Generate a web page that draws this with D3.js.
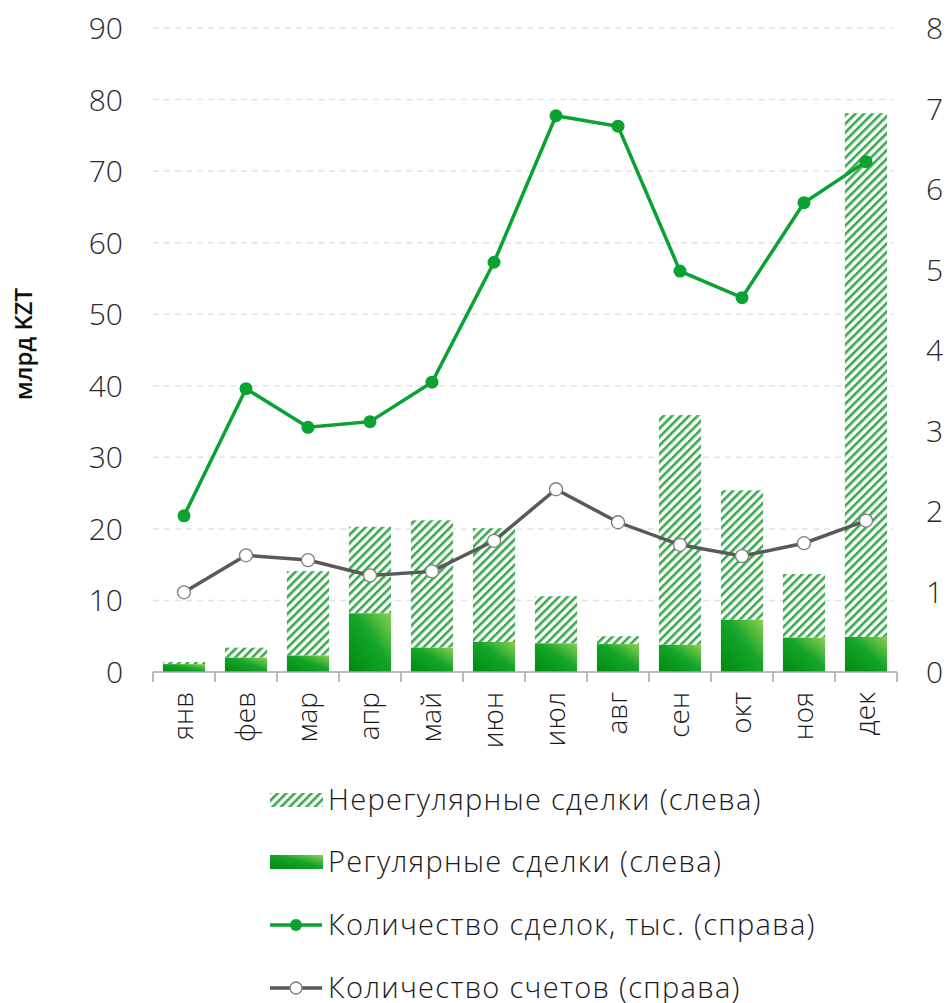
<!DOCTYPE html>
<meta charset="utf-8">
<style>
body { margin: 0; background: #fff; }
svg { display: block; font-family: "Open Sans", Lato, sans-serif; }
.axis text { fill: #2b2b2b; font-size: 30px; font-weight: 300; }
.months text { fill: #1a1a1a; font-size: 28px; font-weight: 300; }
.grid line { stroke: #e3e3e3; stroke-width: 1.5px; stroke-dasharray: 6 5; }
.legend text { fill: #1a1a1a; font-size: 29px; font-weight: 300; letter-spacing: 1.3px; }
</style>
<svg id="chart" width="949" height="1003"></svg>
<script src="https://cdn.jsdelivr.net/npm/d3@7"></script>
<script>
var months = ["янв", "фев", "мар", "апр", "май", "июн", "июл", "авг", "сен", "окт", "ноя", "дек"];
var regular = [1.1, 2.0, 2.3, 8.2, 3.4, 4.2, 4.0, 3.9, 3.8, 7.3, 4.8, 4.9];
var totals = [1.4, 3.4, 14.1, 20.3, 21.2, 20.1, 10.6, 5.0, 35.9, 25.4, 13.7, 78.1];
var deals = [1.94, 3.52, 3.04, 3.11, 3.60, 5.09, 6.91, 6.78, 4.98, 4.65, 5.83, 6.34];
var accounts = [0.99, 1.45, 1.39, 1.20, 1.25, 1.63, 2.27, 1.86, 1.58, 1.44, 1.60, 1.88];
var leftTicks = [0, 10, 20, 30, 40, 50, 60, 70, 80, 90];
var rightTicks = [0, 1, 2, 3, 4, 5, 6, 7, 8];

var svg = d3.select("#chart");
var plotLeft = 153, plotRight = 897, plotTop = 28, plotBottom = 672;

var x = d3.scaleBand().domain(months).range([plotLeft, plotRight]).paddingInner(0.32).paddingOuter(0.16);
var yL = d3.scaleLinear().domain([0, 90]).range([plotBottom, plotTop]);
var yR = d3.scaleLinear().domain([0, 8]).range([plotBottom, plotTop]);

var defs = svg.append("defs");
var grad = defs.append("linearGradient").attr("id", "solid")
    .attr("x1", "0").attr("y1", "1").attr("x2", "1").attr("y2", "0");
grad.append("stop").attr("offset", "0").attr("stop-color", "#008a0e");
grad.append("stop").attr("offset", "0.55").attr("stop-color", "#14a52a");
grad.append("stop").attr("offset", "1").attr("stop-color", "#8ccf50");

var hatch = defs.append("pattern").attr("id", "hatch")
    .attr("patternUnits", "userSpaceOnUse").attr("width", 6).attr("height", 6)
    .attr("patternTransform", "rotate(45)");
hatch.append("rect").attr("width", 6).attr("height", 6).attr("fill", "#fff");
hatch.append("rect").attr("width", 2.6).attr("height", 6).attr("fill", "#3aa84e");

// grid
svg.append("g").attr("class", "grid")
   .selectAll("line").data(leftTicks.slice(1)).enter().append("line")
   .attr("x1", plotLeft).attr("x2", plotRight - 4)
   .attr("y1", function(d) { return yL(d); })
   .attr("y2", function(d) { return yL(d); });

// bars
var bars = svg.append("g").attr("class", "bars");
bars.selectAll("rect.irr").data(months).enter().append("rect")
    .attr("class", "irr")
    .attr("x", function(d) { return x(d); })
    .attr("width", x.bandwidth())
    .attr("y", function(d, i) { return yL(totals[i]); })
    .attr("height", function(d, i) { return yL(regular[i]) - yL(totals[i]); })
    .attr("fill", "url(#hatch)");
bars.selectAll("rect.reg").data(months).enter().append("rect")
    .attr("class", "reg")
    .attr("x", function(d) { return x(d); })
    .attr("width", x.bandwidth())
    .attr("y", function(d, i) { return yL(regular[i]); })
    .attr("height", function(d, i) { return yL(0) - yL(regular[i]); })
    .attr("fill", "url(#solid)");

// x axis baseline and ticks
var xa = svg.append("g");
xa.append("line").attr("x1", plotLeft).attr("x2", plotRight)
  .attr("y1", plotBottom).attr("y2", plotBottom)
  .attr("stroke", "#a6a6a6").attr("stroke-width", 1.5);
var bounds = months.map(function(d) { return x(d) - x.step() * x.paddingInner() / 2; });
bounds.push(plotRight);
xa.selectAll("line.tick").data(bounds).enter().append("line")
  .attr("class", "tick")
  .attr("x1", function(d) { return d; }).attr("x2", function(d) { return d; })
  .attr("y1", plotBottom).attr("y2", plotBottom + 10)
  .attr("stroke", "#a6a6a6").attr("stroke-width", 1.5);

svg.append("g").attr("class", "months")
   .selectAll("text").data(months).enter().append("text")
   .attr("transform", function(d) {
       return "translate(" + (x(d) + x.bandwidth() / 2 + 9) + "," + (plotBottom + 20) + ") rotate(-90)";
   })
   .attr("text-anchor", "end")
   .text(function(d) { return d; });

// left and right tick labels
svg.append("g").attr("class", "axis")
   .selectAll("text").data(leftTicks).enter().append("text")
   .attr("x", 123).attr("y", function(d) { return yL(d) + 11; })
   .attr("text-anchor", "end")
   .text(function(d) { return d; });
svg.append("g").attr("class", "axis")
   .selectAll("text").data(rightTicks).enter().append("text")
   .attr("x", 926).attr("y", function(d) { return yR(d) + 11; })
   .attr("text-anchor", "start")
   .text(function(d) { return d; });

svg.append("text")
   .attr("transform", "translate(32," + 344 + ") rotate(-90)")
   .attr("text-anchor", "middle")
   .attr("font-size", 24).attr("font-weight", 600).attr("fill", "#111")
   .text("млрд KZT");

// lines
var cx = function(d, i) { return x(months[i]) + x.bandwidth() / 2; };
var lineR = function(vals) {
    return d3.line().x(function(d, i) { return cx(d, i); }).y(function(d) { return yR(d); })(vals);
};
svg.append("path").attr("d", lineR(accounts))
   .attr("fill", "none").attr("stroke", "#595959").attr("stroke-width", 3.5);
svg.append("g").selectAll("circle").data(accounts).enter().append("circle")
   .attr("cx", cx).attr("cy", function(d) { return yR(d); }).attr("r", 6.5)
   .attr("fill", "#fff").attr("stroke", "#7f7f7f").attr("stroke-width", 1.3);

svg.append("path").attr("d", lineR(deals))
   .attr("fill", "none").attr("stroke", "#0aa232").attr("stroke-width", 3.5);
svg.append("g").selectAll("circle").data(deals).enter().append("circle")
   .attr("cx", cx).attr("cy", function(d) { return yR(d); }).attr("r", 6.5)
   .attr("fill", "#0aa232");

// legend
var legendItems = ["Нерегулярные сделки (слева)", "Регулярные сделки (слева)",
                   "Количество сделок, тыс. (справа)", "Количество счетов (справа)"];
var lg = svg.append("g").attr("class", "legend");
var ly = [800, 862, 925, 988];
lg.selectAll("text").data(legendItems).enter().append("text")
  .attr("x", 328).attr("y", function(d, i) { return ly[i] + 10; })
  .text(function(d) { return d; });
lg.append("rect").attr("x", 270).attr("y", ly[0] - 7).attr("width", 53).attr("height", 14)
  .attr("fill", "url(#hatch)");
lg.append("rect").attr("x", 270).attr("y", ly[1] - 7).attr("width", 53).attr("height", 14)
  .attr("fill", "url(#solid)");
lg.append("line").attr("x1", 270).attr("x2", 322).attr("y1", ly[2]).attr("y2", ly[2])
  .attr("stroke", "#0aa232").attr("stroke-width", 3.5);
lg.append("circle").attr("cx", 296).attr("cy", ly[2]).attr("r", 6).attr("fill", "#0aa232");
lg.append("line").attr("x1", 270).attr("x2", 322).attr("y1", ly[3]).attr("y2", ly[3])
  .attr("stroke", "#595959").attr("stroke-width", 3.5);
lg.append("circle").attr("cx", 296).attr("cy", ly[3]).attr("r", 6)
  .attr("fill", "#fff").attr("stroke", "#7f7f7f").attr("stroke-width", 1.3);
</script>
